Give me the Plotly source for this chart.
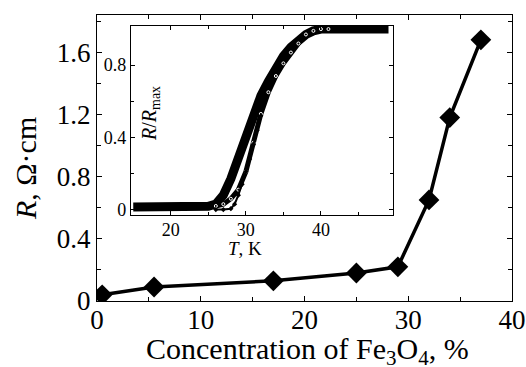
import plotly.graph_objects as go

# Main data: resistance vs Fe3O4 concentration
conc = [0.5, 5.5, 17, 25, 29, 32, 34, 37]
res = [0.04, 0.09, 0.13, 0.18, 0.22, 0.65, 1.18, 1.68]

# Inset data: normalized resistance vs temperature
T_a = [15, 18, 21, 24, 25, 26, 27, 28, 29, 30, 31, 32, 33, 34, 35, 36, 37, 38, 39, 40, 43, 46, 49]
R_a = [0.015, 0.015, 0.015, 0.016, 0.018, 0.03, 0.08, 0.17, 0.28, 0.42, 0.53, 0.63, 0.71, 0.79,
       0.85, 0.90, 0.94, 0.97, 0.99, 1.0, 1.0, 1.0, 1.0]
T_b = [26, 27, 28, 29, 30, 31, 32, 33, 34, 35, 36, 37, 38, 39, 40, 41]
R_b = [0.02, 0.03, 0.06, 0.11, 0.21, 0.37, 0.53, 0.65, 0.74, 0.81, 0.87, 0.92, 0.97, 0.99, 1.0, 1.0]
T_c = [26, 27, 28, 28.5, 29, 29.5, 30, 30.5, 31, 31.5, 32]
R_c = [0.0, 0.0, 0.005, 0.03, 0.08, 0.14, 0.21, 0.28, 0.36, 0.44, 0.52]

main_yticks = [0, 0.4, 0.8, 1.2, 1.6]
main_ylabels = ["0", "0.4", "0.8", "1.2", "1.6"]
inset_yticks = [0, 0.4, 0.8]
inset_ylabels = ["0", "0.4", "0.8"]

FONT = "Liberation Serif, Times New Roman, DejaVu Serif, serif"

W, H = 526, 367
ML, MR, MT, MB = 97, 14, 15, 66
pw, ph = W - ML - MR, H - MT - MB


def px(x):
    return (x - ML) / pw


def py(y):
    return (H - MB - y) / ph


fig = go.Figure()
fig.add_trace(go.Scatter(x=conc, y=res, mode="lines+markers",
                         line=dict(color="black", width=3.5),
                         marker=dict(symbol="diamond", size=16, color="black"),
                         xaxis="x", yaxis="y", showlegend=False))
fig.add_trace(go.Scatter(x=T_a, y=R_a, mode="lines", line=dict(color="black", width=9),
                         xaxis="x2", yaxis="y2", showlegend=False))
fig.add_trace(go.Scatter(x=T_b, y=R_b, mode="lines+markers", line=dict(color="black", width=5),
                         marker=dict(symbol="circle-open", size=3, color="white"),
                         xaxis="x2", yaxis="y2", showlegend=False))
fig.add_trace(go.Scatter(x=T_c, y=R_c, mode="lines+markers", line=dict(color="black", width=2),
                         marker=dict(symbol="diamond", size=4, color="black"),
                         xaxis="x2", yaxis="y2", showlegend=False))

axis_common = dict(showline=True, linecolor="black", linewidth=1.2, mirror="ticks",
                   ticks="inside", tickcolor="black", showgrid=False, zeroline=False,
                   automargin=False)

fig.update_layout(
    width=W, height=H,
    margin=dict(l=ML, r=MR, t=MT, b=MB, autoexpand=False),
    paper_bgcolor="white", plot_bgcolor="white",
    font=dict(family=FONT, color="black"),
    xaxis=dict(range=[0, 40], dtick=10, ticklen=5, tickwidth=1.2,
               minor=dict(dtick=5, ticks="inside", ticklen=4, tickcolor="black"),
               tickfont=dict(size=27, family=FONT), ticklabelstandoff=-6,
               **axis_common),
    yaxis=dict(range=[0, 1.84], tickvals=main_yticks, ticktext=main_ylabels,
               ticklen=5, tickwidth=1.2,
               minor=dict(dtick=0.2, ticks="inside", ticklen=4, tickcolor="black"),
               tickfont=dict(size=27, family=FONT),
               **axis_common),
    xaxis2=dict(domain=[px(131), px(393)], anchor="y2", range=[14.7, 49.6],
                tickvals=[20, 30, 40], ticklen=4, tickwidth=1, ticklabelstandoff=-2,
                minor=dict(tickvals=[25, 35, 45], ticks="inside", ticklen=3, tickcolor="black"),
                tickfont=dict(size=18, family=FONT), **axis_common),
    yaxis2=dict(domain=[py(215), py(26)], anchor="x2", range=[-0.03, 1.017],
                tickvals=inset_yticks, ticktext=inset_ylabels, ticklen=4, tickwidth=1,
                minor=dict(tickvals=[0.2, 0.6], ticks="inside", ticklen=3, tickcolor="black"),
                tickfont=dict(size=18, family=FONT), **axis_common),
    annotations=[
        dict(text="Concentration of Fe<sub>3</sub>O<sub>4</sub>, %", x=px(307), y=py(351),
             xref="paper", yref="paper", xanchor="center", yanchor="middle",
             showarrow=False, font=dict(size=30, family=FONT)),
        dict(text="<i>R</i>, Ω·cm", x=px(25), y=py(169),
             xref="paper", yref="paper", xanchor="center", yanchor="middle",
             showarrow=False, textangle=-90, font=dict(size=30, family=FONT)),
        dict(text="<i>R</i>/<i>R</i><sub>max</sub>", x=px(150), y=py(114),
             xref="paper", yref="paper", xanchor="center", yanchor="middle",
             showarrow=False, textangle=-90, font=dict(size=20, family=FONT)),
        dict(text="<i>T</i>, K", x=px(245), y=py(249), xref="paper", yref="paper",
             xanchor="center", yanchor="middle",
             showarrow=False, font=dict(size=19, family=FONT)),
    ],
)

fig.write_html("out.html", config={"displayModeBar": False},
               post_script="document.body.style.margin='0';")
